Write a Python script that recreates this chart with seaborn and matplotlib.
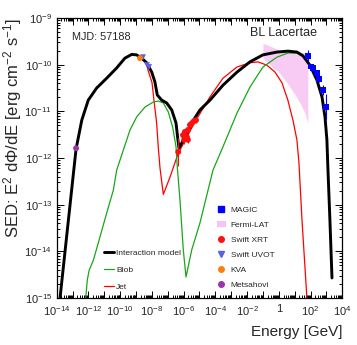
import numpy as np
import pandas as pd
import matplotlib
matplotlib.use('Agg')
import matplotlib.pyplot as plt
import matplotlib.ticker as mtick
from matplotlib.lines import Line2D
from matplotlib.patches import Patch
import seaborn as sns

# all values are log10(E / GeV) and log10(SED / erg cm^-2 s^-1)
total_logE = [-13.79, -12.99, -12.78, -12.42, -12.01, -11.48, -10.85, -10.22, -9.70, -9.27,
              -8.96, -8.64, -8.33, -8.01, -7.81, -7.66, -7.38, -7.07, -6.75, -6.48,
              -6.36, -6.29, -5.92, -5.60, -5.29, -4.97, -4.34, -3.52, -2.64, -1.82,
              -1.00, -0.12, 0.57, 1.14, 1.52, 1.96, 2.40, 2.72, 2.91, 3.03,
              3.09, 3.22, 3.35]
total_logF = [-15.0, -12.47, -11.81, -11.19, -10.76, -10.50, -10.29, -10.07, -9.86, -9.78,
              -9.79, -9.86, -9.96, -10.16, -10.37, -10.65, -10.76, -10.82, -10.97, -11.25,
              -11.61, -11.79, -11.55, -11.34, -11.14, -10.97, -10.76, -10.44, -10.16, -9.94,
              -9.79, -9.73, -9.71, -9.73, -9.81, -10.01, -10.33, -10.69, -11.12, -11.61,
              -12.19, -13.33, -14.57]

jet_logE = [-13.79, -12.99, -12.78, -12.42, -12.01, -11.48, -10.85, -10.22, -9.70, -9.27,
            -8.96, -8.64, -8.33, -8.25, -7.99, -7.87, -7.70, -7.60, -7.49, -7.28,
            -6.86, -6.34, -6.23, -5.29, -4.34, -3.52, -2.64, -1.82, -1.32, -0.75,
            -0.24, 0.20, 0.57, 0.89, 1.14, 1.27, 1.46, 1.77]
jet_logF = [-15.0, -12.47, -11.81, -11.19, -10.76, -10.50, -10.29, -10.07, -9.86, -9.78,
            -9.79, -9.86, -9.96, -10.11, -10.39, -10.76, -11.25, -11.76, -12.21, -12.78,
            -12.41, -11.90, -11.83, -11.23, -10.69, -10.29, -10.05, -9.96, -9.94, -10.01,
            -10.16, -10.39, -10.76, -11.19, -11.61, -12.11, -13.33, -15.0]

blob_logE = [-12.17, -12.07, -11.95, -11.69, -11.27, -10.85, -10.43, -10.22, -9.80, -9.38,
             -8.96, -8.44, -7.91, -7.60, -7.28, -6.97, -6.69, -6.48, -6.40, -6.23,
             -6.02, -5.85, -5.49, -4.97, -4.15, -3.52, -2.64, -1.82, -1.00, -0.12,
             0.57, 1.14, 1.52, 1.96, 2.40, 2.72, 2.91, 3.03, 3.09, 3.22, 3.35]
blob_logF = [-15.0, -14.61, -14.40, -14.19, -13.69, -13.18, -12.69, -12.26, -11.83, -11.40,
             -11.12, -10.91, -10.80, -10.78, -10.82, -11.01, -11.34, -11.76, -12.19, -12.90,
             -13.97, -14.55, -13.97, -13.39, -12.26, -11.76, -11.04, -10.48, -10.05, -9.84,
             -9.75, -9.75, -9.81, -10.01, -10.33, -10.69, -11.12, -11.61, -12.19, -13.33, -14.57]

fermi_logE = [-1.00, -0.50, 0.00, 0.50, 1.00, 1.33, 1.65, 1.83]
fermi_hi = [-9.54, -9.61, -9.68, -9.70, -9.72, -9.73, -9.74, -9.75]
fermi_lo = [-9.86, -10.02, -10.16, -10.38, -10.63, -10.82, -11.04, -11.25]

magic_logE = [1.82, 2.00, 2.17, 2.38, 2.55, 2.76, 2.97]
magic_logF = [-9.81, -10.04, -10.08, -10.18, -10.31, -10.54, -10.91]
magic_err = [0.12, 0.05, 0.05, 0.06, 0.07, 0.10, 0.28]

xrt_logE = [-6.34, -6.04, -5.97, -5.92, -5.79, -5.73, -5.73, -5.60, -5.47, -5.35, -5.22]
xrt_logF = [-11.87, -11.51, -11.61, -11.44, -11.55, -11.40, -11.61, -11.29, -11.25, -11.21, -11.19]
xrt_err = [0.30, 0.08, 0.08, 0.07, 0.07, 0.06, 0.07, 0.06, 0.05, 0.05, 0.05]

uvot_logE = [-8.56, -8.31, -8.18]
uvot_logF = [-9.84, -10.01, -10.05]
kva_logE = [-8.75]
kva_logF = [-9.86]
mets_logE = [-12.78]
mets_logF = [-11.79]

sns.set_style('ticks')
plt.rcParams['font.family'] = ['Liberation Sans', 'DejaVu Sans']
plt.rcParams['mathtext.fontset'] = 'custom'
plt.rcParams['mathtext.rm'] = 'Liberation Sans'
plt.rcParams['mathtext.it'] = 'Liberation Sans:italic'
plt.rcParams['mathtext.bf'] = 'Liberation Sans:bold'

fig = plt.figure(figsize=(3.57, 3.45), dpi=100)
ax = fig.add_axes([0.1588, 0.1362, 0.80, 0.8116])


def curve(logE, logF):
    return pd.DataFrame({'E': 10 ** np.array(logE), 'F': 10 ** np.array(logF)})


def errs(logv, err):
    v = 10 ** np.array(logv)
    e = np.array(err)
    return [v - v * 10 ** -e, v * 10 ** e - v]


fe = 10 ** np.array(fermi_logE)
ax.fill_between(fe, 10 ** np.array(fermi_lo), 10 ** np.array(fermi_hi),
                color='#f7c2f4', alpha=0.85, linewidth=0, zorder=1)

green = '#1aa51a'
sns.lineplot(data=curve(jet_logE, jet_logF), x='E', y='F', sort=False, estimator=None,
             color='#ff0000', linewidth=0.9, ax=ax, zorder=2)
sns.lineplot(data=curve(blob_logE, blob_logF), x='E', y='F', sort=False, estimator=None,
             color=green, linewidth=0.9, ax=ax, zorder=2)
sns.lineplot(data=curve(total_logE, total_logF), x='E', y='F', sort=False, estimator=None,
             color='black', linewidth=2.1, ax=ax, zorder=3)

# error bars
ax.errorbar(10 ** np.array(magic_logE), 10 ** np.array(magic_logF),
            yerr=errs(magic_logF, magic_err), fmt='none', ecolor='#0000ff', elinewidth=0.8, zorder=4)
ax.errorbar(10 ** np.array(xrt_logE), 10 ** np.array(xrt_logF),
            yerr=errs(xrt_logF, xrt_err), xerr=errs(xrt_logE, [0.06] * len(xrt_logE)),
            fmt='none', ecolor='#ff0000', elinewidth=0.7, zorder=4)

pts = pd.concat([
    pd.DataFrame({'E': 10 ** np.array(magic_logE), 'F': 10 ** np.array(magic_logF), 'src': 'MAGIC'}),
    pd.DataFrame({'E': 10 ** np.array(xrt_logE), 'F': 10 ** np.array(xrt_logF), 'src': 'Swift XRT'}),
    pd.DataFrame({'E': 10 ** np.array(uvot_logE), 'F': 10 ** np.array(uvot_logF), 'src': 'Swift UVOT'}),
    pd.DataFrame({'E': 10 ** np.array(kva_logE), 'F': 10 ** np.array(kva_logF), 'src': 'KVA'}),
    pd.DataFrame({'E': 10 ** np.array(mets_logE), 'F': 10 ** np.array(mets_logF), 'src': 'Metsahovi'}),
])
pal = {'MAGIC': '#0000ff', 'Swift XRT': '#ff1010', 'Swift UVOT': '#5f5fe0',
       'KVA': '#ff7f0e', 'Metsahovi': '#9a35a8'}
marks = {'MAGIC': 's', 'Swift XRT': 'o', 'Swift UVOT': 'v', 'KVA': 'o', 'Metsahovi': 'o'}
sns.scatterplot(data=pts, x='E', y='F', hue='src', style='src', palette=pal, markers=marks,
                s=18, linewidth=0, ax=ax, zorder=5, legend=False)

ax.set_xscale('log')
ax.set_yscale('log')
ax.set_xlim(1e-14, 1e4)
ax.set_ylim(1e-15, 1e-9)


def xfmt(v, pos):
    e = int(round(np.log10(v)))
    if e % 2:
        return ''
    if e == 0:
        return '1'
    return r'$10^{%d}$' % e


def yfmt(v, pos):
    e = int(round(np.log10(v)))
    return r'$10^{%d}$' % e


ax.xaxis.set_major_locator(mtick.LogLocator(base=10, numticks=40))
ax.xaxis.set_minor_locator(mtick.LogLocator(base=10, subs=np.arange(2, 10), numticks=40))
ax.xaxis.set_major_formatter(mtick.FuncFormatter(xfmt))
ax.xaxis.set_minor_formatter(mtick.NullFormatter())
ax.yaxis.set_major_locator(mtick.LogLocator(base=10, numticks=20))
ax.yaxis.set_minor_locator(mtick.LogLocator(base=10, subs=np.arange(2, 10), numticks=20))
ax.yaxis.set_major_formatter(mtick.FuncFormatter(yfmt))
ax.yaxis.set_minor_formatter(mtick.NullFormatter())
ax.tick_params(which='both', direction='in', top=True, right=True, labelsize=8, width=0.7, color='black')
ax.tick_params(which='major', length=5)
ax.tick_params(axis='x', which='major', pad=4.5)
ax.tick_params(which='minor', length=2.5)
for s in ax.spines.values():
    s.set_linewidth(0.9)
    s.set_color('black')

ax.set_xlabel('Energy [GeV]', fontsize=11, loc='right')
ax.set_ylabel('SED: E$^{2}$ dΦ/dE [erg cm$^{-2}$ s$^{-1}$]', fontsize=12, loc='top')
ax.xaxis.set_label_coords(1.0, -0.095)
ax.yaxis.set_label_coords(-0.113, 1.0)

ax.text(0.054, 0.932, 'MJD: 57188', transform=ax.transAxes, fontsize=7.8, va='center')
ax.text(0.677, 0.946, 'BL Lacertae', transform=ax.transAxes, fontsize=9, va='center')

h1 = [Line2D([], [], ls='none', marker='s', color='#0000ff', markersize=4),
      Patch(facecolor='#f7c2f4', edgecolor='none'),
      Line2D([], [], ls='none', marker='o', color='#ff1010', markersize=4),
      Line2D([], [], ls='none', marker='v', color='#5f5fe0', markersize=4),
      Line2D([], [], ls='none', marker='o', color='#ff7f0e', markersize=4),
      Line2D([], [], ls='none', marker='o', color='#9a35a8', markersize=4)]
l1 = ax.legend(h1, ['MAGIC', 'Fermi-LAT', 'Swift XRT', 'Swift UVOT', 'KVA', 'Metsahovi'],
               loc='upper left', bbox_to_anchor=(0.545, 0.345), frameon=False, fontsize=6,
               handlelength=1.1, handleheight=0.9, handletextpad=0.6, labelspacing=0.8, borderpad=0)
ax.add_artist(l1)
h2 = [Line2D([], [], color='black', lw=2.1),
      Line2D([], [], color=green, lw=0.9),
      Line2D([], [], color='#ff0000', lw=0.9)]
ax.legend(h2, ['Interaction model', 'Blob', 'Jet'], loc='upper left',
          bbox_to_anchor=(0.15, 0.19), frameon=False, fontsize=6,
          handlelength=1.2, handletextpad=0.3, labelspacing=1.1, borderpad=0)

fig.savefig('out.png', dpi=100)
